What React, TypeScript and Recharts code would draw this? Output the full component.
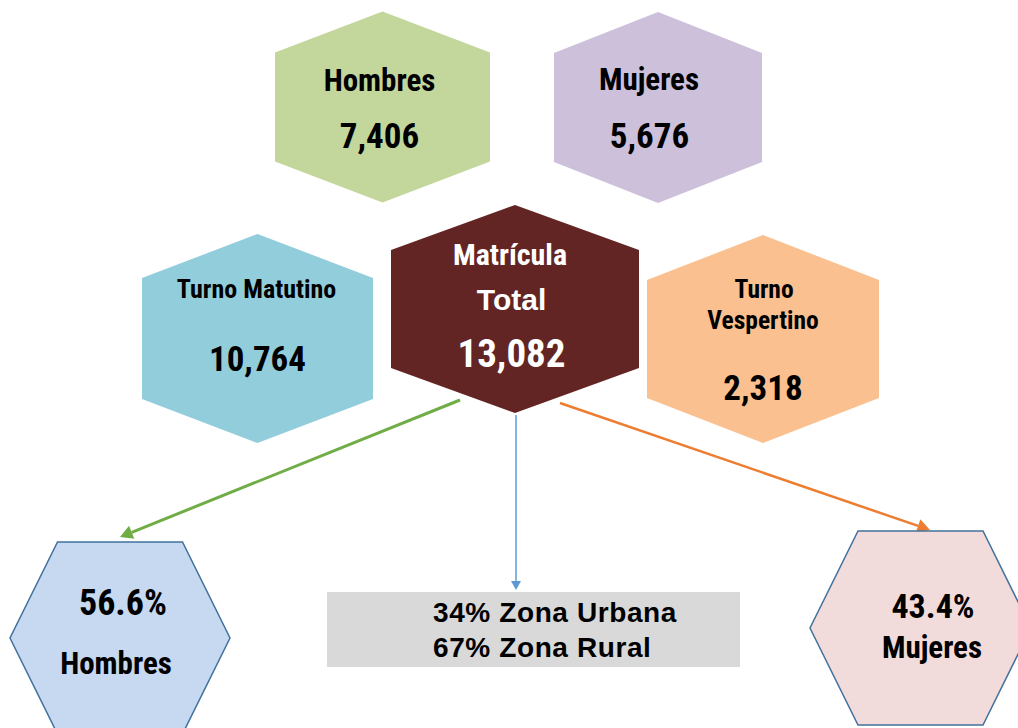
import React from 'react'
import { ScatterChart, Scatter, XAxis, YAxis, ReferenceLine, ReferenceArea } from 'recharts'

const sexCategories = ['Hombres', 'Mujeres']
const sexValues = [7406, 5676]
const shiftCategories = ['Turno Matutino', 'Turno Vespertino']
const shiftValues = [10764, 2318]
const totalTitle = ['Matrícula', 'Total']
const totalValue = 13082
const sexShares = [56.6, 43.4]
const zoneCategories = ['Zona Urbana', 'Zona Rural']
const zoneShares = [34, 67]

const W = 1018
const H = 728
const NARROW = "'Roboto Condensed', Roboto, 'DejaVu Sans Condensed'"
const WIDE = "'Liberation Sans', Arimo, 'DejaVu Sans'"

const fmt = (n: number) => n.toLocaleString('en-US')

type Line = { text: string; dx: number; dy: number; size: number; font?: string }
type Node = {
    x: number
    y: number
    w: number
    h: number
    s: number
    flat?: boolean
    fill: string
    stroke?: string
    color: string
    lines: Line[]
}

// layout (centres in the chart's own coordinate space)
const nodes: Node[] = [
    {
        x: 382.5, y: 107, w: 215, h: 191, s: 41, fill: '#C3D69B', color: '#000',
        lines: [
            { text: sexCategories[0], dx: -3, dy: -16, size: 31 },
            { text: fmt(sexValues[0]), dx: -3, dy: 41, size: 35 },
        ],
    },
    {
        x: 658, y: 107.5, w: 208, h: 191, s: 41, fill: '#CCC0DA', color: '#000',
        lines: [
            { text: sexCategories[1], dx: -9, dy: -17.5, size: 31 },
            { text: fmt(sexValues[1]), dx: -8.5, dy: 40.5, size: 35 },
        ],
    },
    {
        x: 257.5, y: 338.5, w: 231, h: 209, s: 44, fill: '#92CDDC', color: '#000',
        lines: [
            { text: shiftCategories[0], dx: -1, dy: -40.5, size: 26 },
            { text: fmt(shiftValues[0]), dx: 0, dy: 32.5, size: 35 },
        ],
    },
    {
        x: 763, y: 339, w: 232, h: 208, s: 45, fill: '#FAC090', color: '#000',
        lines: [
            { text: shiftCategories[1].split(' ')[0], dx: 1, dy: -41, size: 25.5 },
            { text: shiftCategories[1].split(' ')[1], dx: 0, dy: -10, size: 25.5 },
            { text: fmt(shiftValues[1]), dx: 0, dy: 61, size: 35 },
        ],
    },
    {
        x: 515, y: 309, w: 248, h: 208, s: 45, fill: '#632523', color: '#fff',
        lines: [
            { text: totalTitle[0], dx: -5, dy: -44, size: 30 },
            { text: totalTitle[1], dx: -3.5, dy: 1, size: 30, font: WIDE },
            { text: fmt(totalValue), dx: -3.5, dy: 58, size: 39 },
        ],
    },
    {
        x: 120, y: 638, w: 220, h: 192, s: 62.5, flat: true, fill: '#C6D9F1', stroke: '#41719C', color: '#000',
        lines: [
            { text: `${sexShares[0]}%`, dx: 3, dy: -23, size: 36 },
            { text: sexCategories[0], dx: -4, dy: 36, size: 31 },
        ],
    },
    {
        x: 920.5, y: 628, w: 221, h: 194, s: 62.5, flat: true, fill: '#F2DCDB', stroke: '#41719C', color: '#000',
        lines: [
            { text: `${sexShares[1]}%`, dx: 12.5, dy: -10, size: 34 },
            { text: sexCategories[1], dx: 11.5, dy: 30, size: 31 },
        ],
    },
]

const arrows = [
    { from: { x: 460, y: 400 }, to: { x: 120, y: 537 }, color: '#70AD47', width: 3, head: 7 },
    { from: { x: 516, y: 415 }, to: { x: 516, y: 590 }, color: '#5B9BD5', width: 1.5, head: 5 },
    { from: { x: 560, y: 403 }, to: { x: 930, y: 530 }, color: '#ED7D31', width: 2.5, head: 7 },
]

const zoneBox = { x1: 327, x2: 740, y1: 592, y2: 667 }

function Hexagon(props: any) {
    const { cx, cy, payload } = props
    const n: Node = payload
    const hw = n.w / 2
    const hh = n.h / 2
    let pts: number[][]
    if (n.flat) {
        pts = [
            [cx - n.s, cy - hh], [cx + n.s, cy - hh], [cx + hw, cy],
            [cx + n.s, cy + hh], [cx - n.s, cy + hh], [cx - hw, cy],
        ]
    } else {
        pts = [
            [cx, cy - hh], [cx + hw, cy - hh + n.s], [cx + hw, cy + hh - n.s],
            [cx, cy + hh], [cx - hw, cy + hh - n.s], [cx - hw, cy - hh + n.s],
        ]
    }
    return (
        <g>
            <polygon
                points={pts.map((p) => p.join(',')).join(' ')}
                fill={n.fill}
                stroke={n.stroke || 'none'}
                strokeWidth={1.5}
            />
            {n.lines.map((l, i) => (
                <text
                    key={i}
                    x={cx + l.dx}
                    y={cy + l.dy}
                    textAnchor="middle"
                    fontFamily={l.font || NARROW}
                    fontStretch={l.font ? 'normal' : 'condensed'}
                    fontWeight="bold"
                    fontSize={l.size}
                    fill={n.color}
                >
                    {l.text}
                </text>
            ))}
        </g>
    )
}

const arrowShape = (color: string, width: number, head: number) => (props: any) => {
    const { x1, y1, x2, y2 } = props
    const a = Math.atan2(y2 - y1, x2 - x1)
    const len = head * 1.8
    const bx = x2 - len * Math.cos(a)
    const by = y2 - len * Math.sin(a)
    const px = -Math.sin(a) * head
    const py = Math.cos(a) * head
    return (
        <g>
            <line x1={x1} y1={y1} x2={bx} y2={by} stroke={color} strokeWidth={width} />
            <polygon
                points={`${x2},${y2} ${bx + px},${by + py} ${bx - px},${by - py}`}
                fill={color}
            />
        </g>
    )
}

const ZoneLabel = (props: any) => {
    const { viewBox } = props
    const { x, y } = viewBox
    return (
        <g>
            {zoneCategories.map((c, i) => (
                <text
                    key={c}
                    x={x + 106}
                    y={y + 30 + i * 35}
                    fontFamily={WIDE}
                    fontWeight="bold"
                    fontSize={28}
                    letterSpacing={0.6}
                    fill="#000"
                >
                    {`${zoneShares[i]}% ${c}`}
                </text>
            ))}
        </g>
    )
}

export default function App() {
    return (
        <div style={{ width: W, height: H, background: '#fff' }}>
            <style>{'body{margin:0}'}</style>
            <ScatterChart width={W} height={H} margin={{ top: 0, right: 0, bottom: 0, left: 0 }}>
                <XAxis type="number" dataKey="x" domain={[0, W]} hide />
                <YAxis type="number" dataKey="y" domain={[0, H]} reversed hide />
                <ReferenceArea
                    x1={zoneBox.x1}
                    x2={zoneBox.x2}
                    y1={zoneBox.y1}
                    y2={zoneBox.y2}
                    fill="#D9D9D9"
                    fillOpacity={1}
                    stroke="none"
                    label={<ZoneLabel />}
                />
                {arrows.map((a, i) => (
                    <ReferenceLine
                        key={i}
                        segment={[a.from, a.to]}
                        shape={arrowShape(a.color, a.width, a.head)}
                    />
                ))}
                <Scatter data={nodes} shape={<Hexagon />} isAnimationActive={false} />
            </ScatterChart>
        </div>
    )
}
